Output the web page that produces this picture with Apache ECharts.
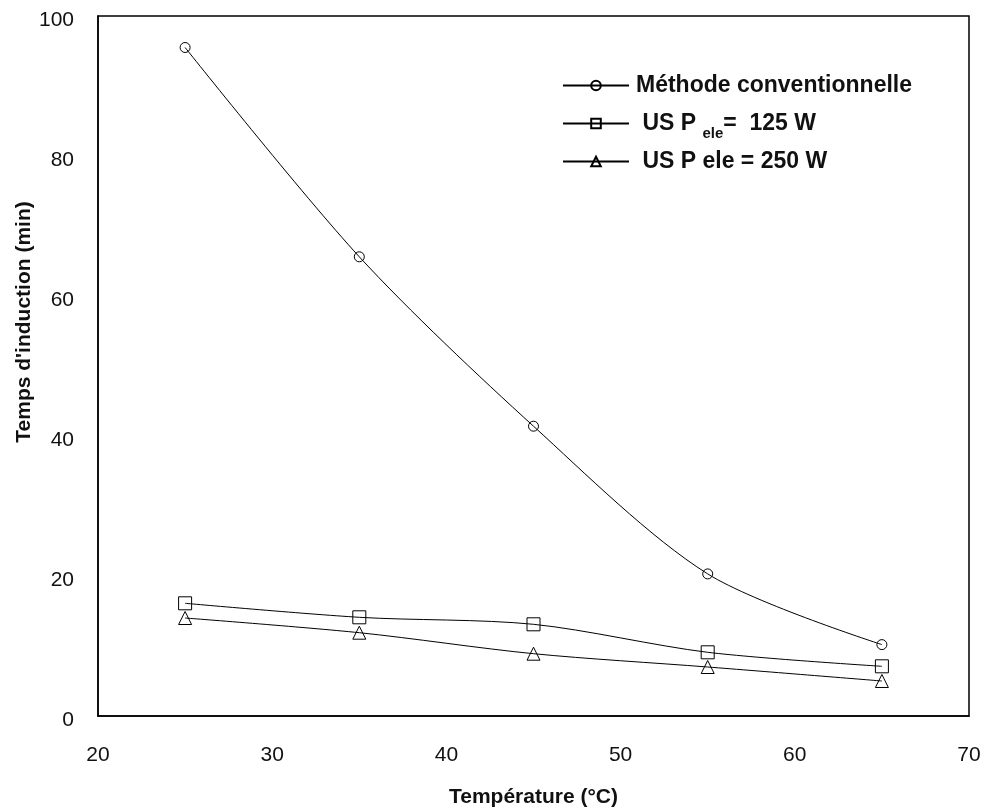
<!DOCTYPE html>
<html><head><meta charset="utf-8">
<script src="https://cdn.jsdelivr.net/npm/echarts@6/dist/echarts.min.js"></script>
<style>html,body{margin:0;padding:0;background:#fff}#c{width:984px;height:808px}</style>
</head><body><div id="c"></div>
<script>
const temperatures = [25, 35, 45, 55, 65];
const conventionnelle = [95.5, 65.6, 41.4, 20.3, 10.2];
const us125 = [16.1, 14.1, 13.1, 9.1, 7.1];
const us250 = [14.0, 11.9, 8.9, 7.0, 5.0];
const seriesNames = ['Méthode conventionnelle', 'US P ele =  125 W', 'US P ele = 250 W'];
const xTicks = [20, 30, 40, 50, 60, 70];
const yTicks = [0, 20, 40, 60, 80, 100];

const pair = (ys) => temperatures.map((t, i) => [t, ys[i]]);
const chart = echarts.init(document.getElementById('c'));
const font = '"Liberation Sans", Arial, sans-serif';
const txt = '#111';
const legendBase = {
  orient: 'vertical', itemWidth: 66, itemHeight: 12, itemGap: 0, padding: 0,
  textStyle: {fontFamily: font, fontSize: 23, fontWeight: 'bold', color: txt, padding: [0, 0, 0, 2]},
  inactiveColor: '#000'
};
const transparent = 'rgba(255,255,255,0)';
chart.setOption({
  animation: false,
  backgroundColor: '#fff',
  grid: {left: 98, right: 15, top: 16, bottom: 92, outerBoundsMode: 'none', containLabel: false},
  xAxis: {
    type: 'value', min: xTicks[0], max: xTicks[xTicks.length - 1], interval: 10,
    name: 'Température (°C)', nameLocation: 'middle', nameGap: 71, nameMoveOverlap: false,
    nameTextStyle: {fontFamily: font, fontSize: 21, fontWeight: 'bold', color: txt},
    axisLine: {show: true, lineStyle: {color: '#000', width: 1.5}},
    axisTick: {show: false}, splitLine: {show: false},
    axisLabel: {fontFamily: font, fontSize: 21, color: txt, margin: 29}
  },
  yAxis: {
    type: 'value', min: yTicks[0], max: yTicks[yTicks.length - 1], interval: 20,
    name: "Temps d'induction (min)", nameLocation: 'middle', nameGap: 63, nameMoveOverlap: false,
    nameTextStyle: {fontFamily: font, fontSize: 21, fontWeight: 'bold', color: txt, padding: [0, 0, 0, 88]},
    axisLine: {show: true, lineStyle: {color: '#000', width: 1.5}},
    axisTick: {show: false}, splitLine: {show: false},
    axisLabel: {color: txt, margin: 24, formatter: '{v|{value}}',
      rich: {v: {fontFamily: font, fontSize: 21, color: txt, padding: [8, 0, 0, 0]}}}
  },
  legend: [
    Object.assign({}, legendBase, {left: 562, top: 74, data: [seriesNames[0]],
      formatter: () => 'Méthode conventionnelle'}),
    Object.assign({}, legendBase, {left: 562, top: 112, data: [seriesNames[1]],
      formatter: () => ' US P {sub|ele}=  125 W',
      textStyle: Object.assign({}, legendBase.textStyle, {rich: {sub: {fontFamily: font, fontSize: 15, fontWeight: 'bold', color: txt, padding: [20, 0, 0, 0]}}})}),
    Object.assign({}, legendBase, {left: 562, top: 150, data: [seriesNames[2]],
      formatter: () => ' US P ele = 250 W'})
  ],
  series: [
    {name: seriesNames[0], type: 'line', smooth: 0.3, data: pair(conventionnelle),
     symbol: 'circle', symbolSize: 10,
     lineStyle: {color: '#000', width: 1}, itemStyle: {color: transparent, borderColor: '#000', borderWidth: 1}},
    {name: seriesNames[1], type: 'line', smooth: 0.3, data: pair(us125),
     symbol: 'rect', symbolSize: 13,
     lineStyle: {color: '#000', width: 1}, itemStyle: {color: transparent, borderColor: '#000', borderWidth: 1}},
    {name: seriesNames[2], type: 'line', smooth: 0.3, data: pair(us250),
     symbol: 'triangle', symbolSize: 13,
     lineStyle: {color: '#000', width: 1}, itemStyle: {color: transparent, borderColor: '#000', borderWidth: 1}}
  ],
  graphic: [{type: 'rect', shape: {x: 98, y: 16, width: 871, height: 700},
    style: {fill: 'none', stroke: '#000', lineWidth: 1.5}, silent: true, z: 10}]
});
</script></body></html>
